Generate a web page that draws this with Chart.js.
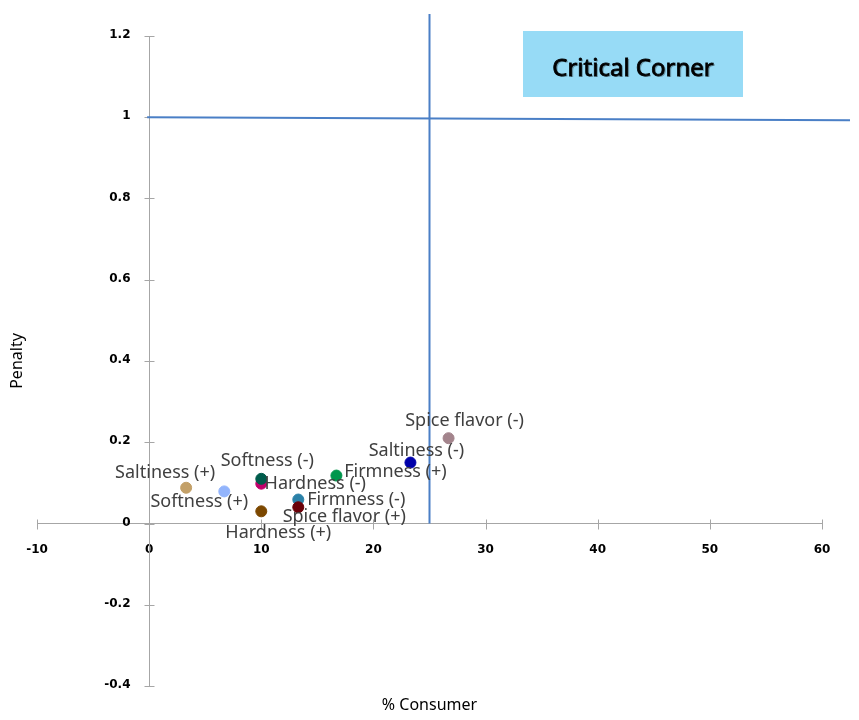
<!DOCTYPE html>
<html>
<head>
<meta charset="utf-8">
<script src="https://cdn.jsdelivr.net/npm/chart.js@4.4.1/dist/chart.umd.min.js"></script>
<style>
  html, body { margin: 0; padding: 0; background: #fff; }
  #wrap { width: 859px; height: 720px; }
</style>
</head>
<body>
<div id="wrap"><canvas id="penaltyChart" width="859" height="720"></canvas></div>
<script>
// data
const attributes = ["Spice flavor (-)", "Saltiness (-)", "Firmness (+)", "Hardness (-)", "Softness (-)",
  "Saltiness (+)", "Softness (+)", "Firmness (-)", "Spice flavor (+)", "Hardness (+)"];
const consumerPct = [26.7, 23.3, 16.7, 10, 10, 3.3, 6.7, 13.3, 13.3, 10];
const penalty = [0.21, 0.15, 0.118, 0.098, 0.11, 0.088, 0.079, 0.059, 0.04, 0.03];
const pointColors = ["#a3848c", "#0000aa", "#00964c", "#c2006c", "#005c4c",
  "#c3a068", "#92b4fc", "#2b81a8", "#6a0008", "#7c4800"];
// label placement relative to the point (px)
const labelOffsets = [[16, -17], [6, -12], [59, -4], [54, 0], [6, -18],
  [-21, -15], [-25, 10], [58, 0], [46, 10], [17, 22]];

const xRange = [-10, 60];
const yRange = [-0.4, 1.2];
const consumerCut = 25;   // vertical threshold
const penaltyCut = 1;     // horizontal threshold

const AXIS_GREY = "#a6a6a6";
const LINE_BLUE = "#4a7fc6";
const TICK_FONT = "bold 12px 'DejaVu Sans'";

// cross tick marks, y tick labels, threshold lines, labels, box, axis titles
const decorations = {
  id: "decorations",
  afterDatasetsDraw(chart) {
    const { ctx, scales: { x, y }, chartArea } = chart;
    ctx.save();

    // tick marks crossing the axes
    ctx.strokeStyle = AXIS_GREY;
    ctx.lineWidth = 1;
    const y0 = Math.round(y.getPixelForValue(0)) + 0.5;
    const x0 = Math.round(x.getPixelForValue(0)) + 0.5;
    x.ticks.forEach(t => {
      const px = Math.round(x.getPixelForValue(t.value)) + 0.5;
      ctx.beginPath(); ctx.moveTo(px, y0 - 5); ctx.lineTo(px, y0 + 5); ctx.stroke();
    });
    y.ticks.forEach(t => {
      const py = Math.round(y.getPixelForValue(t.value)) + 0.5;
      ctx.beginPath(); ctx.moveTo(x0 - 5, py); ctx.lineTo(x0 + 5, py); ctx.stroke();
    });

    // y tick labels (chart.js ignores padding for value-positioned y axes)
    ctx.font = TICK_FONT;
    ctx.fillStyle = "#000";
    ctx.textAlign = "right";
    ctx.textBaseline = "middle";
    y.ticks.forEach(t => {
      ctx.fillText(String(Number(t.value.toFixed(1))), x0 - 19, y.getPixelForValue(t.value) - 1);
    });

    // threshold lines
    ctx.strokeStyle = LINE_BLUE;
    ctx.lineWidth = 2;
    const xc = x.getPixelForValue(consumerCut);
    ctx.beginPath(); ctx.moveTo(xc, chartArea.top - 22); ctx.lineTo(xc, y.getPixelForValue(0)); ctx.stroke();
    const yc = y.getPixelForValue(penaltyCut);
    ctx.beginPath(); ctx.moveTo(x.getPixelForValue(0) - 2, yc); ctx.lineTo(chart.width - 9, yc + 3); ctx.stroke();

    // point labels
    ctx.font = "18px 'Noto Sans'";
    ctx.fillStyle = "#404040";
    ctx.textAlign = "center";
    const meta = chart.getDatasetMeta(0);
    meta.data.forEach((pt, i) => {
      const [dx, dy] = labelOffsets[i];
      ctx.fillText(attributes[i], pt.x + dx, pt.y + dy);
    });

    // "Critical Corner" box
    ctx.fillStyle = "#97dbf6";
    ctx.fillRect(523, 31, 220, 66);
    ctx.font = "24px 'Noto Sans'";
    ctx.fillStyle = "rgba(0,0,0,0.3)";
    ctx.fillText("Critical Corner", 634.5, 70.5);
    ctx.fillStyle = "#000";
    ctx.strokeStyle = "#000";
    ctx.lineWidth = 0.8;
    ctx.fillText("Critical Corner", 633, 69);
    ctx.strokeText("Critical Corner", 633, 69);

    // axis titles
    ctx.font = "16px 'Noto Sans'";
    ctx.fillText("% Consumer", (x.left + x.right) / 2, 705);
    ctx.translate(17, (chartArea.top + chartArea.bottom) / 2);
    ctx.rotate(-Math.PI / 2);
    ctx.fillText("Penalty", 0, 0);
    ctx.restore();
  }
};

new Chart(document.getElementById("penaltyChart"), {
  type: "scatter",
  data: {
    datasets: [{
      label: "Attributes",
      data: consumerPct.map((v, i) => ({ x: v, y: penalty[i] })),
      backgroundColor: pointColors,
      borderColor: pointColors,
      pointRadius: 5.5,
      pointHoverRadius: 5.5
    }]
  },
  options: {
    responsive: false,
    animation: false,
    layout: { padding: { left: 37, right: 37, top: 36, bottom: 34 } },
    scales: {
      x: {
        type: "linear",
        position: { y: 0 },
        min: xRange[0],
        max: xRange[1],
        grid: { display: false },
        border: { display: true, color: AXIS_GREY },
        ticks: { stepSize: 10, padding: 11, color: "#000", font: { family: "DejaVu Sans", size: 12, weight: "bold" } }
      },
      y: {
        type: "linear",
        position: { x: 0 },
        min: yRange[0],
        max: yRange[1],
        grid: { display: false },
        border: { display: true, color: AXIS_GREY },
        ticks: { stepSize: 0.2, display: false }
      }
    },
    plugins: {
      legend: { display: false },
      tooltip: { enabled: false }
    }
  },
  plugins: [decorations]
});
</script>
</body>
</html>
